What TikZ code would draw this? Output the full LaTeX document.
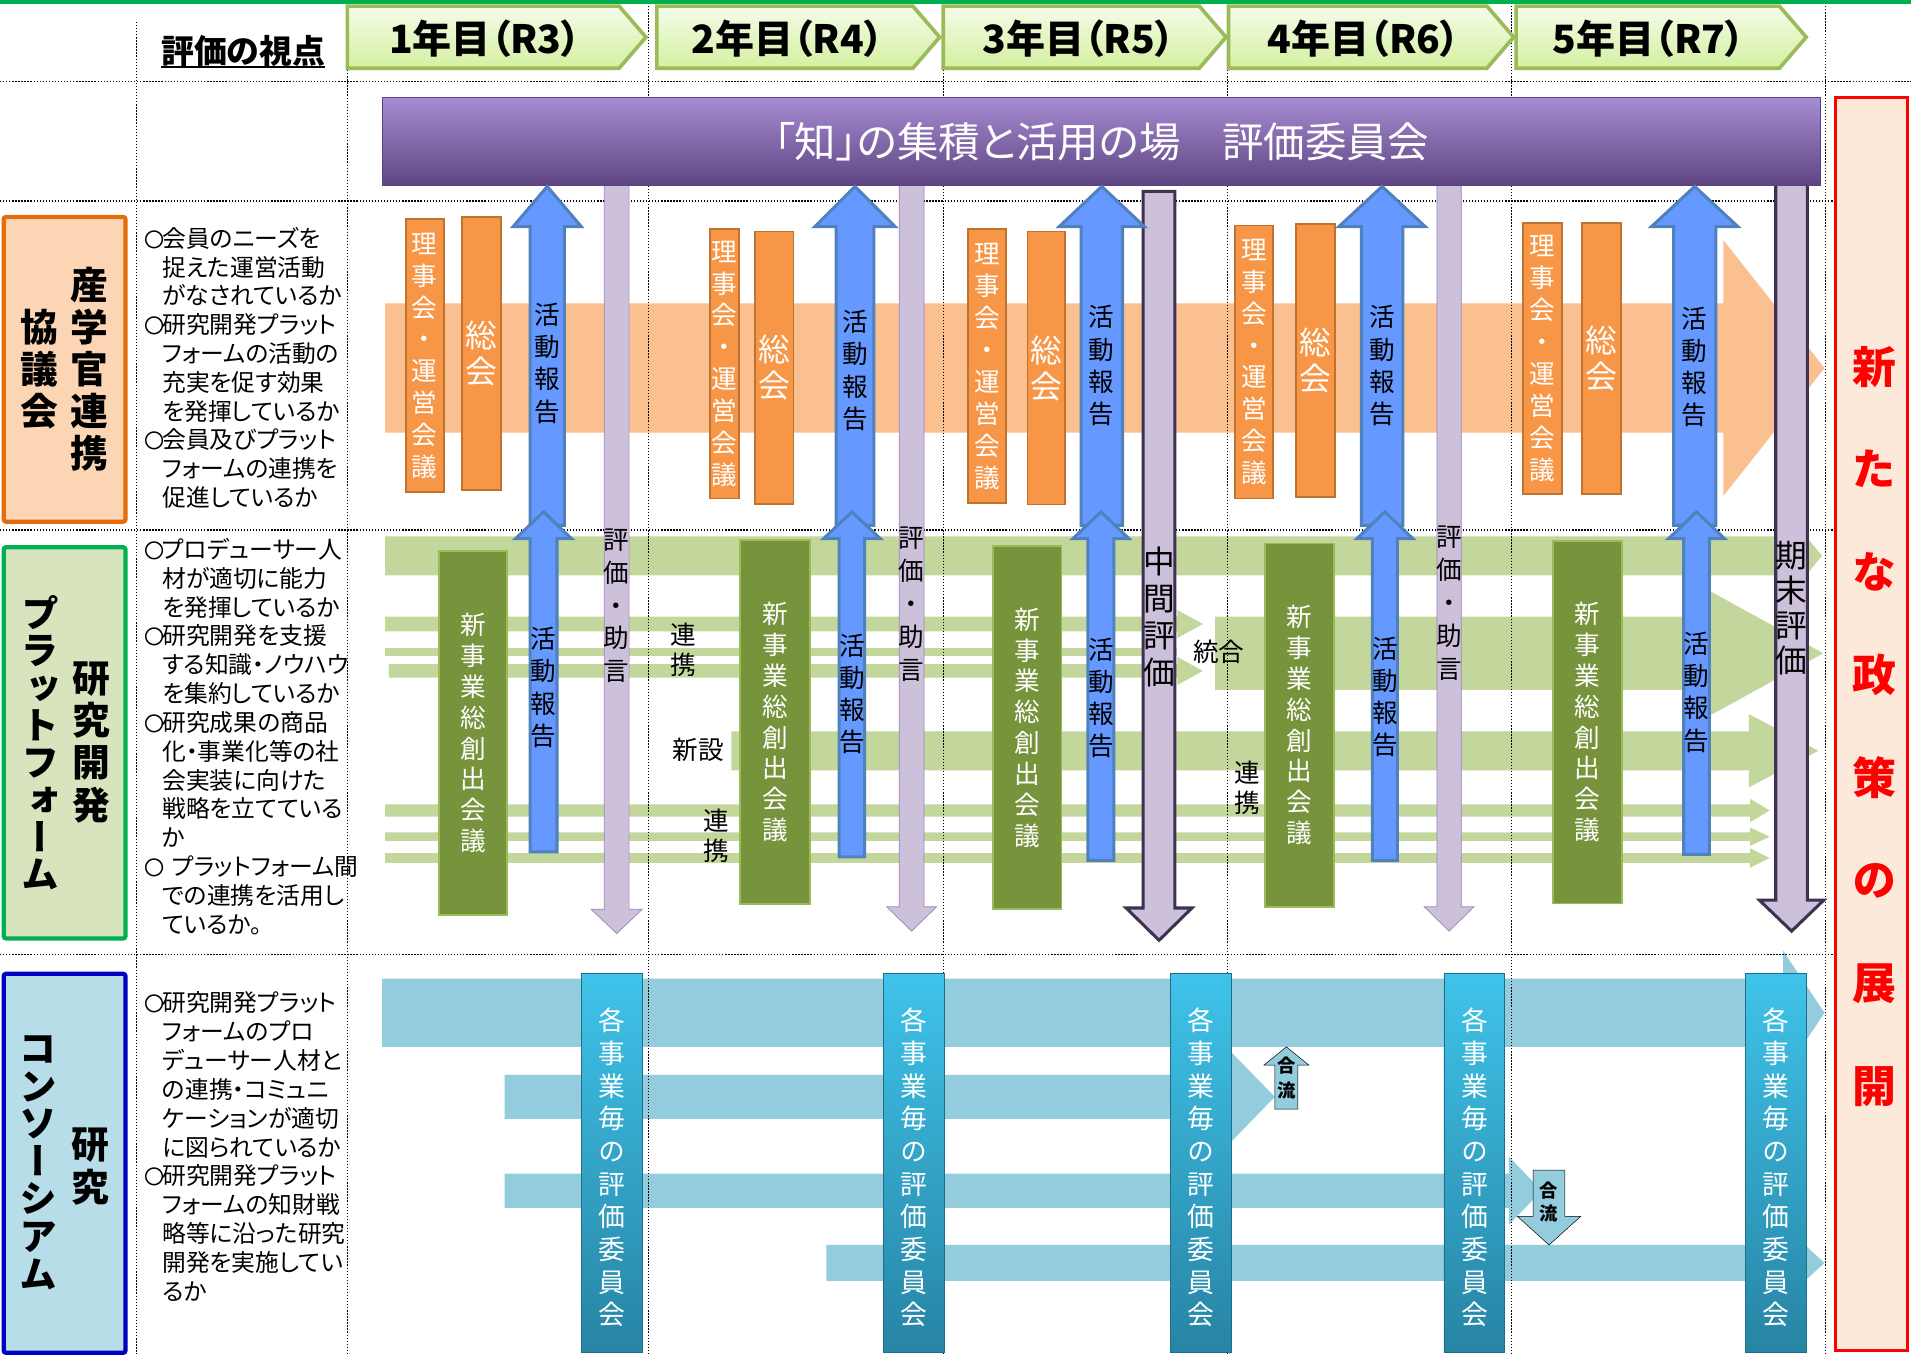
\documentclass[tikz,border=0pt]{standalone}
\usepackage{fontspec}
\newfontfamily\jp[RawFeature=+palt]{Noto Sans CJK JP}
\newfontfamily\jpv[RawFeature=+vert]{Noto Sans CJK JP}
\newfontfamily\jpn{Noto Sans CJK JP}
\definecolor{topg}{HTML}{00B050}
\definecolor{yrb}{HTML}{9BBB59}
\definecolor{yrt1}{HTML}{F4FCEA}
\definecolor{yrt2}{HTML}{D4F0A0}
\definecolor{pur1}{HTML}{A68CD2}
\definecolor{pur2}{HTML}{7D5FA8}
\definecolor{pur3}{HTML}{5E4582}
\definecolor{purb}{HTML}{5A4080}
\definecolor{redf}{HTML}{FDE9D9}
\definecolor{lb1f}{HTML}{FCD5B5}
\definecolor{lb1b}{HTML}{E46C0A}
\definecolor{lb2f}{HTML}{D7E4BD}
\definecolor{lb2b}{HTML}{00B050}
\definecolor{lb3f}{HTML}{B7DDE8}
\definecolor{lb3b}{HTML}{0000C0}
\definecolor{orgbandc}{HTML}{FAC090}
\definecolor{orgf}{HTML}{F79646}
\definecolor{orgb}{HTML}{C0722F}
\definecolor{bluef}{HTML}{6699FF}
\definecolor{blueb}{HTML}{4F81BD}
\definecolor{lavf}{HTML}{CCC0DA}
\definecolor{lavb}{HTML}{9B86BC}
\definecolor{lavd}{HTML}{3F3151}
\definecolor{grbandc}{HTML}{C3D69B}
\definecolor{grf}{HTML}{77933C}
\definecolor{grb}{HTML}{9BBB59}
\definecolor{blbandc}{HTML}{93CDDD}
\definecolor{teal1}{HTML}{3FC3EA}
\definecolor{teal2}{HTML}{2784A4}
\definecolor{teald}{HTML}{1F6E88}
\newcommand\mk{\makebox[15pt][l]{\jpn\fontsize{16.5}{20}\selectfont 〇}}
\newcommand\mkk{\makebox[23pt][l]{\jpn\fontsize{16.5}{20}\selectfont 〇}}
\newcommand\ind{\hspace*{15pt}}
% vertical arrow: style, cx, shaft half, head half, tip y, head base y, end y
\newcommand\varr[7]{\draw[#1] ({#2-#3},#7) -- ({#2-#3},#6) -- ({#2-#4},#6) -- (#2,#5) -- ({#2+#4},#6) -- ({#2+#3},#6) -- ({#2+#3},#7) -- cycle;}
% horizontal band arrow: style, x0, ytop, ybot, head x, head half, tip x
\newcommand\harr[7]{\fill[#1] (#2,#3) -- (#5,#3) -- (#5,{(#3+#4)/2-#6}) -- (#7,{(#3+#4)/2}) -- (#5,{(#3+#4)/2+#6}) -- (#5,#4) -- (#2,#4) -- cycle;}
\newcommand\yrbox[5]{%
 \shade[top color=yrt1, bottom color=yrt2] (#1,5) -- ({#2-22},5) -- (#2,30.5) -- ({#2-22},56) -- (#1,56) -- cycle;
 \draw[yrline] (#1,5) -- ({#2-22},5) -- (#2,30.5) -- ({#2-22},56) -- (#1,56) -- cycle;
 \node[yrtext] (#3) at (#4,31.5) {#5};}
\newcommand\vplines[4]{\foreach \t [count=\i from 0] in {#4} {\node[vp] (#1\i) at (#2,{#3+\i*23.65}) {\t};}}
\begin{document}
\begin{tikzpicture}[x=1pt,y=-1pt,
 vt/.style n args={2}{font=\jpv\fontsize{#1}{#2}\selectfont, align=center, inner sep=0pt},
 vtb/.style n args={2}{font=\jpv\bfseries\fontsize{#1}{#2}\selectfont, align=center, inner sep=0pt},
 ht/.style={font=\jp\fontsize{21}{24}\selectfont, inner sep=0pt},
 vp/.style={font=\jp\fontsize{19.5}{23}\selectfont, anchor=west, inner sep=0pt, text height=17pt, text depth=2.5pt},
 dotl/.style={line width=1.1pt, dash pattern=on 1.1pt off 1.4pt, black},
 orgband/.style={fill=orgbandc},
 grband/.style={fill=grbandc},
 blband/.style={fill=blbandc},
 yrline/.style={draw=yrb, line width=3pt, line join=miter},
 yrtext/.style={font=\jp\bfseries\fontsize{32}{35}\selectfont, inner sep=0pt},
 lbox/.style n args={2}{draw=#1, fill=#2, line width=3.5pt, inner sep=0pt, rounded corners=2pt},
 smallorg/.style={draw=orgb, fill=orgf, line width=1.5pt, text=white},
 grbox/.style={draw=grb, fill=grf, line width=1.5pt, text=white},
 tealbox/.style={draw=teald, line width=0.8pt, top color=teal1, bottom color=teal2, inner sep=0pt},
 bluearr/.style={fill=bluef, draw=blueb, line width=2.5pt, line join=miter},
 lavarr/.style={fill=lavf, draw=lavb, line width=0.6pt},
 lavarrd/.style={fill=lavf, draw=lavd, line width=2.5pt, line join=miter},
 gofill/.style={fill=blbandc}
]
\useasboundingbox (0,0) rectangle (1568,1111);
\fill[white] (0,0) rectangle (1568,1111);
\fill[topg] (0,0) rectangle (1568,3.3);

% ---------- bands ----------
\harr{orgband}{316}{249}{355}{1414}{105}{1497}
\harr{grband}{316}{440}{472}{1476}{23}{1495}
\harr{grband}{316}{506}{518}{966}{11.5}{987}
\fill[grband] (316,532) rectangle (966,538.5);
\harr{grband}{319}{545}{556}{966}{11.5}{987}
\harr{grband}{997}{506}{566}{1404}{50.5}{1496}
\harr{grband}{600}{600}{632}{1435}{30}{1492}
\harr{grband}{316}{660}{670}{1436}{9.5}{1452}
\harr{grband}{316}{683}{690}{1436}{7.5}{1452}
\harr{grband}{316}{700}{708}{1436}{8}{1452}
\harr{blband}{313.6}{803}{859}{1463}{51}{1497}
\harr{blband}{414}{882}{918}{1010}{37}{1046}
\harr{blband}{414}{963}{991}{1238}{28}{1265}
\harr{blband}{678}{1021.5}{1051}{1463}{31}{1497}

% ---------- dotted grid ----------
\draw[dotl] (0,67) -- (1568,67);
\foreach \yy in {165,435,783} {\draw[dotl] (0,\yy) -- (1505,\yy);}
\draw[dotl] (112,18) -- (112,1111);
\foreach \xx in {285,532,774,1007,1240,1498} {\draw[dotl] (\xx,5) -- (\xx,1111);}

% ---------- header ----------
\node[font=\jp\bfseries\fontsize{27}{30}\selectfont, inner sep=0pt] (hd) at (199.5,42) {評価の視点};
\draw[line width=1.6pt] (hd.south west) -- (hd.south east);
\yrbox{285}{530}{yr1}{398}{1年目（R3）}
\yrbox{539}{771}{yr2}{646}{2年目（R4）}
\yrbox{774}{1006}{yr3}{885}{3年目（R5）}
\yrbox{1008}{1242}{yr4}{1119}{4年目（R6）}
\yrbox{1244}{1482}{yr5}{1353}{5年目（R7）}

% ---------- left labels ----------
\node[lbox={lb1b}{lb1f}, minimum width=100pt, minimum height=250pt] (lb1) at (53,303) {};
\node[vtb={31}{34.5}] (l1r) at (73,303) {産\\学\\官\\連\\携};
\node[vtb={31}{34.5}] (l1l) at (32,303) {協\\議\\会};
\node[lbox={lb2b}{lb2f}, minimum width=100pt, minimum height=321pt] (lb2) at (53,609.5) {};
\node[vtb={31}{34.8}] (l2r) at (75,609) {研\\究\\開\\発};
\node[vtb={31}{30.6}] (l2l) at (33,609.5) {プ\\ラ\\ッ\\ト\\フ\\ォ\\ー\\ム};
\node[lbox={lb3b}{lb3f}, minimum width=100pt, minimum height=311pt] (lb3) at (53,954.5) {};
\node[vtb={31}{35.5}] (l3r) at (74,957) {研\\究};
\node[vtb={31}{30.8}] (l3l) at (31.4,954) {コ\\ン\\ソ\\ー\\シ\\ア\\ム};

% ---------- viewpoints ----------
\vplines{va}{118}{195.6}{\mk 会員のニーズを, \ind 捉えた運営活動, \ind がなされているか, \mk 研究開発プラット, \ind フォームの活動の, \ind 充実を促す効果, \ind を発揮しているか, \mk 会員及びプラット, \ind フォームの連携を, \ind 促進しているか}
\vplines{vb}{118}{451}{\mk プロデューサー人, \ind 材が適切に能力, \ind を発揮しているか, \mk 研究開発を支援, \ind する知識・ノウハウ, \ind を集約しているか, \mk 研究成果の商品, \ind 化・事業化等の社, \ind 会実装に向けた, \ind 戦略を立てている, \ind か, \mkk プラットフォーム間, \ind での連携を活用し, \ind ているか。}
\vplines{vc}{118}{823}{\mk 研究開発プラット, \ind フォームのプロ, \ind デューサー人材と, \ind の連携・コミュニ, \ind ケーションが適切, \ind に図られているか, \mk 研究開発プラット, \ind フォームの知財戦, \ind 略等に沿った研究, \ind 開発を実施してい, \ind るか}

% ---------- orange boxes ----------
\node[smallorg, minimum width=31pt, minimum height=224pt, vt={21}{26.2}] (a1) at (348.5,292) {理\\事\\会\\・\\運\\営\\会\\議};
\node[smallorg, minimum width=32pt, minimum height=224pt, vt={26}{29.5}] (b1) at (395,290) {総\\会};
\node[smallorg, minimum width=23.5pt, minimum height=221pt, vt={21}{26.2}] (a2) at (594.3,298.5) {理\\事\\会\\・\\運\\営\\会\\議};
\node[smallorg, minimum width=31.5pt, minimum height=223.6pt, vt={26}{29.5}] (b2) at (635.3,301.8) {総\\会};
\node[smallorg, minimum width=31.5pt, minimum height=225pt, vt={21}{26.2}] (a3) at (809.8,300.5) {理\\事\\会\\・\\運\\営\\会\\議};
\node[smallorg, minimum width=31pt, minimum height=224pt, vt={26}{29.5}] (b3) at (858.5,302) {総\\会};
\node[smallorg, minimum width=31.6pt, minimum height=224pt, vt={21}{26.2}] (a4) at (1028.8,297) {理\\事\\会\\・\\運\\営\\会\\議};
\node[smallorg, minimum width=31.5pt, minimum height=224pt, vt={26}{29.5}] (b4) at (1079.3,296) {総\\会};
\node[smallorg, minimum width=31.6pt, minimum height=222pt, vt={21}{26.2}] (a5) at (1265.6,294) {理\\事\\会\\・\\運\\営\\会\\議};
\node[smallorg, minimum width=32pt, minimum height=222pt, vt={26}{29.5}] (b5) at (1314,294) {総\\会};

% ---------- green boxes ----------
\node[grbox, minimum width=56pt, minimum height=299pt, vt={21}{25.3}] (g1) at (388,601.5) {新\\事\\業\\総\\創\\出\\会\\議};
\node[grbox, minimum width=57pt, minimum height=299pt, vt={21}{25.3}] (g2) at (636,592.5) {新\\事\\業\\総\\創\\出\\会\\議};
\node[grbox, minimum width=56.4pt, minimum height=298pt, vt={21}{25.3}] (g3) at (842.8,597) {新\\事\\業\\総\\創\\出\\会\\議};
\node[grbox, minimum width=56.4pt, minimum height=298pt, vt={21}{25.3}] (g4) at (1066.2,595) {新\\事\\業\\総\\創\\出\\会\\議};
\node[grbox, minimum width=56.6pt, minimum height=297.6pt, vt={21}{25.3}] (g5) at (1302.3,592.5) {新\\事\\業\\総\\創\\出\\会\\議};

% ---------- teal boxes ----------
\foreach \cx [count=\k] in {502,750,985.3,1209.8,1457.5} {
 \node[tealbox, minimum width=50pt, minimum height=311pt] (c\k) at (\cx,954.5) {};
 \node[vt={22}{26.8}, text=white] (ct\k) at (\cx,958) {各\\事\\業\\毎\\の\\評\\価\\委\\員\\会};
}

% ---------- lavender arrows ----------
\varr{lavarr}{506}{10.2}{21}{766}{746}{148}
\varr{lavarr}{748}{10.2}{20.5}{764}{744}{148}
\varr{lavarr}{1189}{10}{20.4}{764}{744}{148}
\varr{lavarrd}{951}{13}{27}{771.5}{745}{157}
\varr{lavarrd}{1470}{13}{26.5}{764}{738.5}{148}
\node[vt={21}{27}] (e1) at (506,497) {評\\価\\・\\助\\言};
\node[vt={21}{27}] (e2) at (748,495.6) {評\\価\\・\\助\\言};
\node[vt={21}{27}] (e4) at (1189,495) {評\\価\\・\\助\\言};
\node[vt={26}{30.4}] (m3) at (951,506.5) {中\\間\\評\\価};
\node[vt={26}{28.6}] (m5) at (1470,498.8) {期\\末\\評\\価};

% ---------- committee bar ----------
\node[draw=purb, line width=0.8pt, top color=pur1, middle color=pur2, bottom color=pur3, minimum width=1180pt, minimum height=72pt, inner sep=0pt, text=white, font=\jp\fontsize{34}{37}\selectfont] (cmt) at (904,116) {「知」の集積と活用の場　評価委員会};

% ---------- blue arrows ----------
\varr{bluearr}{449}{14}{28}{153}{186}{431}
\varr{bluearr}{701.5}{15.5}{33}{153}{186}{431}
\varr{bluearr}{904}{17}{35}{153}{186}{431}
\varr{bluearr}{1134}{17}{35.5}{153}{186}{431}
\varr{bluearr}{1390.5}{17.3}{35.5}{153}{186}{431}
\varr{bluearr}{446}{11}{23}{420}{442}{699}
\varr{bluearr}{699}{10.5}{23.3}{420}{442}{703}
\varr{bluearr}{903.3}{10.7}{23}{420}{442}{706}
\varr{bluearr}{1136.3}{10.3}{23}{420}{442}{706}
\varr{bluearr}{1392}{10.5}{23}{420}{442}{701}
\node[vt={21}{26.4}] (u1) at (449,298) {活\\動\\報\\告};
\node[vt={21}{26.4}] (u2) at (701.5,304) {活\\動\\報\\告};
\node[vt={21}{26.4}] (u3) at (904,300) {活\\動\\報\\告};
\node[vt={21}{26.4}] (u4) at (1134,300) {活\\動\\報\\告};
\node[vt={21}{26.4}] (u5) at (1390.5,301) {活\\動\\報\\告};
\node[vt={21}{26.4}] (d1) at (446,564) {活\\動\\報\\告};
\node[vt={21}{26.4}] (d2) at (699,569.5) {活\\動\\報\\告};
\node[vt={21}{26.4}] (d3) at (903.3,572.5) {活\\動\\報\\告};
\node[vt={21}{26.4}] (d4) at (1136.3,572) {活\\動\\報\\告};
\node[vt={21}{26.4}] (d5) at (1392,568) {活\\動\\報\\告};

% ---------- small labels ----------
\node[vt={21}{24.6}] (ren1) at (561,533.3) {連\\携};
\node[vt={21}{24.6}] (ren2) at (587.5,685.7) {連\\携};
\node[vt={21}{24.6}] (ren3) at (1023,646.8) {連\\携};
\node[ht] (shin) at (573,615) {新設};
\node[ht] (tou) at (1000,535) {統合};
\varr{gofill}{1055.5}{9.5}{18.5}{859}{874}{910}
\varr{gofill}{1271}{13}{26}{1021.5}{998}{960}
\node[vtb={15}{20.6}] (gr1) at (1056,884.7) {合\\流};
\node[vtb={15}{19}] (gr2) at (1270.6,986.5) {合\\流};

% ---------- red box ----------
\node[draw=red, fill=redf, line width=3pt, minimum width=59pt, minimum height=1028pt, inner sep=0pt] (rb) at (1535.5,594) {};
\node[vtb={36}{84.3}, text=red] (rbt) at (1538,595.9) {新\\た\\な\\政\\策\\の\\展\\開};
\end{tikzpicture}
\end{document}
